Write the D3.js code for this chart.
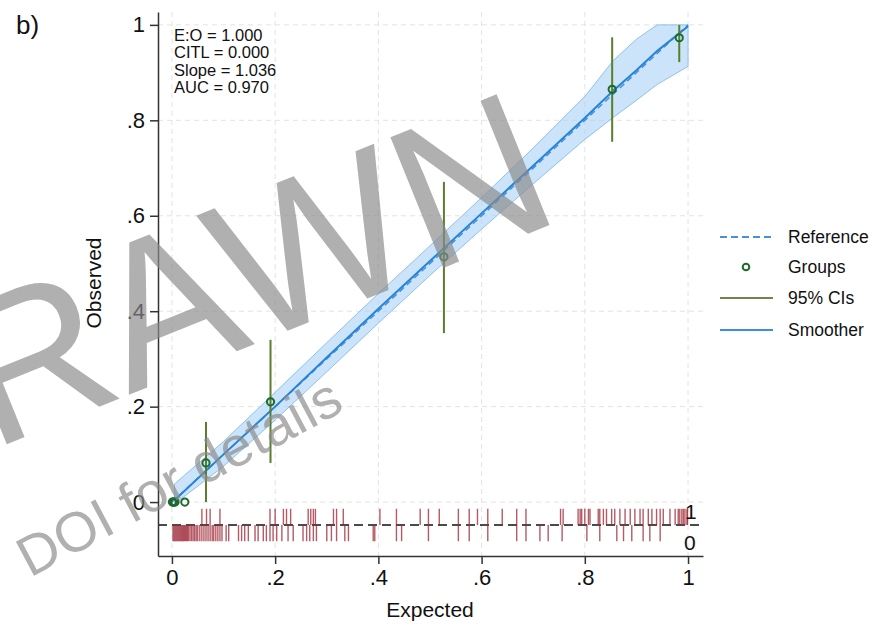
<!DOCTYPE html>
<html><head><meta charset="utf-8">
<script src="https://cdn.jsdelivr.net/npm/d3@7/dist/d3.min.js"></script>
<style>body{margin:0;background:#fff}svg{display:block}text{font-family:"Liberation Sans",Arial,sans-serif}</style>
</head><body>
<svg id="c" width="895" height="630"></svg>
<script>
// ---- data ----
const xTicks = [0, 0.2, 0.4, 0.6, 0.8, 1];
const yTicks = [0, 0.2, 0.4, 0.6, 0.8, 1];
const tickLabels = ["0", ".2", ".4", ".6", ".8", "1"];
const statsText = ["E:O = 1.000", "CITL = 0.000", "Slope = 1.036", "AUC = 0.970"];
const legendLabels = ["Reference", "Groups", "95% CIs", "Smoother"];
const watermark = ["DRAWN", "DOI for details"];

const groupExpected = [0.001, 0.002, 0.004, 0.006, 0.025, 0.066, 0.191, 0.527, 0.853, 0.983];
const groupObserved = [0, 0, 0, 0, 0, 0.082, 0.210, 0.514, 0.865, 0.973];
const ciLower = [0, 0, 0, 0, 0, 0, 0.082, 0.354, 0.755, 0.922];
const ciUpper = [0, 0, 0, 0, 0, 0.168, 0.340, 0.671, 0.974, 1.0];

const smoothX  = [0.005, 0.1, 0.2, 0.3, 0.4, 0.5, 0.6, 0.7, 0.8, 0.855, 0.9, 0.94, 1.0];
const smoothY  = [0.004, 0.100, 0.200, 0.303, 0.405, 0.505, 0.605, 0.705, 0.805, 0.862, 0.905, 0.945, 0.997];
const smoothLo = [-0.004, 0.075, 0.172, 0.273, 0.375, 0.475, 0.572, 0.667, 0.760, 0.806, 0.842, 0.875, 0.913];
const smoothHi = [0.038, 0.127, 0.230, 0.334, 0.437, 0.537, 0.638, 0.742, 0.850, 0.925, 0.970, 1.0, 1.0];

const events1 = [0.058, 0.067, 0.074, 0.093, 0.190, 0.200, 0.216, 0.222, 0.230, 0.264, 0.269, 0.274, 0.278,
  0.313, 0.319, 0.332, 0.403, 0.435, 0.481, 0.497, 0.518, 0.555, 0.576, 0.592, 0.612, 0.640, 0.668, 0.686,
  0.753, 0.758, 0.787, 0.791, 0.794, 0.800, 0.807, 0.810, 0.826, 0.829, 0.836, 0.842, 0.852, 0.858, 0.868,
  0.878, 0.888, 0.897, 0.907, 0.913, 0.923, 0.930, 0.939, 0.946, 0.952, 0.965, 0.975, 0.981, 0.984, 0.988,
  0.991, 0.994, 0.998, 0.999];
const events0 = [0.002, 0.004, 0.006, 0.008, 0.010, 0.012, 0.014, 0.016, 0.018, 0.020, 0.022, 0.024, 0.026,
  0.028, 0.030, 0.032, 0.035, 0.038, 0.041, 0.044, 0.047, 0.050, 0.054, 0.058, 0.062, 0.066, 0.070, 0.074,
  0.078, 0.081, 0.085, 0.089, 0.093, 0.097, 0.105, 0.110, 0.129, 0.135, 0.141, 0.148, 0.161, 0.167, 0.177,
  0.183, 0.190, 0.196, 0.203, 0.213, 0.225, 0.235, 0.254, 0.261, 0.267, 0.274, 0.280, 0.300, 0.309, 0.319,
  0.335, 0.342, 0.390, 0.393, 0.435, 0.445, 0.497, 0.555, 0.576, 0.612, 0.668, 0.686, 0.713, 0.729, 0.756,
  0.804, 0.829, 0.862, 0.875, 0.891, 0.913, 0.926, 0.946];
const spikeBase = -0.048, spikeLen = 0.034;

// ---- layout ----
const svg = d3.select("#c");
const x = d3.scaleLinear().domain([-0.027, 1.029]).range([158, 703]);
const y = d3.scaleLinear().domain([-0.113, 1.027]).range([556, 12]);

// gridlines
const grid = svg.append("g").attr("stroke", "#e3e3e3").attr("stroke-width", 1).attr("stroke-dasharray", "5,4");
grid.selectAll(".gx").data(xTicks).join("line")
  .attr("x1", d => x(d)).attr("x2", d => x(d)).attr("y1", y.range()[1]).attr("y2", y.range()[0]);
grid.selectAll(".gy").data(yTicks).join("line")
  .attr("y1", d => y(d)).attr("y2", d => y(d)).attr("x1", x.range()[0]).attr("x2", x.range()[1]);

// smoother band
const idx = d3.range(smoothX.length);
svg.append("path")
  .attr("d", d3.area().x(i => x(smoothX[i])).y0(i => y(smoothLo[i])).y1(i => y(smoothHi[i]))(idx))
  .attr("fill", "#a9d2f5").attr("fill-opacity", 0.6).attr("stroke", "#8fc1ee").attr("stroke-width", 1);

// reference line
svg.append("line").attr("x1", x(0)).attr("y1", y(0)).attr("x2", x(1)).attr("y2", y(1))
  .attr("stroke", "#4a8fd8").attr("stroke-width", 1.5).attr("stroke-dasharray", "6,4");

// smoother line
svg.append("path").attr("d", d3.line().x(i => x(smoothX[i])).y(i => y(smoothY[i]))(idx))
  .attr("fill", "none").attr("stroke", "#2683d6").attr("stroke-width", 2);

// CIs
const gi = d3.range(groupExpected.length);
svg.append("g").selectAll("line").data(gi).join("line")
  .attr("x1", i => x(groupExpected[i])).attr("x2", i => x(groupExpected[i]))
  .attr("y1", i => y(ciLower[i])).attr("y2", i => y(ciUpper[i]))
  .attr("stroke", "#5b7d2c").attr("stroke-width", 2);

// groups
svg.append("g").selectAll("circle").data(gi).join("circle")
  .attr("cx", i => x(groupExpected[i])).attr("cy", i => y(groupObserved[i])).attr("r", 3.6)
  .attr("fill", "none").attr("stroke", "#1d6b2c").attr("stroke-width", 2);

// spike plot
svg.append("line").attr("x1", x.range()[0]).attr("x2", x.range()[1]).attr("y1", y(spikeBase)).attr("y2", y(spikeBase))
  .attr("stroke", "#111").attr("stroke-width", 1.5).attr("stroke-dasharray", "9,5");
const sp = svg.append("g").attr("stroke", "#9b2431").attr("stroke-opacity", 0.75).attr("stroke-width", 1.4);
sp.selectAll(".s1").data(events1).join("line")
  .attr("x1", d => x(d)).attr("x2", d => x(d)).attr("y1", y(spikeBase)).attr("y2", y(spikeBase + spikeLen));
sp.selectAll(".s0").data(events0).join("line")
  .attr("x1", d => x(d)).attr("x2", d => x(d)).attr("y1", y(spikeBase)).attr("y2", y(spikeBase - spikeLen));
svg.append("text").attr("x", x(1) - 3).attr("y", y(spikeBase + spikeLen) + 10).attr("font-size", 21)
  .attr("fill", "#111").text("1");
svg.append("text").attr("x", x(1) - 4).attr("y", y(spikeBase - spikeLen) + 9).attr("font-size", 21)
  .attr("fill", "#111").text("0");

// axes
const ax = svg.append("g").attr("transform", `translate(0,${y.range()[0]})`)
  .call(d3.axisBottom(x).tickValues(xTicks).tickFormat(d => tickLabels[xTicks.indexOf(d)]).tickSize(8).tickSizeOuter(0).tickPadding(5));
const ay = svg.append("g").attr("transform", `translate(${x.range()[0]},0)`)
  .call(d3.axisLeft(y).tickValues(yTicks).tickFormat(d => tickLabels[yTicks.indexOf(d)]).tickSize(8).tickSizeOuter(0).tickPadding(5));
[ax, ay].forEach(a => {
  a.select(".domain").attr("stroke", "#333").attr("stroke-width", 1.5);
  a.selectAll(".tick line").attr("stroke", "#333").attr("stroke-width", 1.5);
  a.selectAll(".tick text").attr("font-size", 22).attr("fill", "#111")
    .attr("font-family", '"Liberation Sans",Arial,sans-serif');
});

// titles
svg.append("text").attr("x", 430).attr("y", 617).attr("text-anchor", "middle").attr("font-size", 21)
  .attr("fill", "#111").text("Expected");
svg.append("text").attr("transform", "translate(101,283) rotate(-90)").attr("text-anchor", "middle")
  .attr("font-size", 21).attr("fill", "#111").text("Observed");
svg.append("text").attr("x", 16).attr("y", 34).attr("font-size", 26).attr("fill", "#111").text("b)");

// stats annotation
svg.append("g").selectAll("text").data(statsText).join("text")
  .attr("x", 174).attr("y", (d, i) => 41 + i * 17.3).attr("font-size", 16.5).attr("fill", "#111").text(d => d);

// legend
const lg = svg.append("g");
const ly = [237, 267, 298, 330];
lg.append("line").attr("x1", 720).attr("x2", 772).attr("y1", ly[0]).attr("y2", ly[0])
  .attr("stroke", "#4a8fd8").attr("stroke-width", 2).attr("stroke-dasharray", "7,4");
lg.append("circle").attr("cx", 746).attr("cy", ly[1]).attr("r", 3.3).attr("fill", "none")
  .attr("stroke", "#1d6b2c").attr("stroke-width", 2);
lg.append("line").attr("x1", 720).attr("x2", 773).attr("y1", ly[2]).attr("y2", ly[2])
  .attr("stroke", "#6f8646").attr("stroke-width", 2);
lg.append("line").attr("x1", 720).attr("x2", 773).attr("y1", ly[3]).attr("y2", ly[3])
  .attr("stroke", "#3d8ee0").attr("stroke-width", 2);
lg.selectAll("text").data(legendLabels).join("text")
  .attr("x", 788).attr("y", (d, i) => ly[i] + 6).attr("font-size", 17.5).attr("fill", "#111").text(d => d);

// watermark (on top, semi-transparent)
const wm = svg.append("g").attr("fill", "#8a8a8a").attr("fill-opacity", 0.68);
wm.append("text").attr("transform", "translate(-146,506) rotate(-22)")
  .attr("font-size", 205).text(watermark[0]);
wm.append("text").attr("transform", "translate(30,578) rotate(-28)")
  .attr("font-size", 56).text(watermark[1]);
</script>
</body></html>
